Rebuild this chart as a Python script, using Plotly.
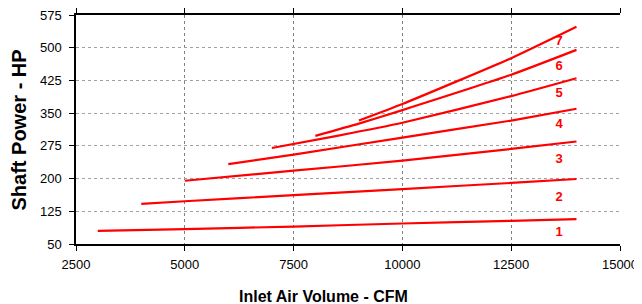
import plotly.graph_objects as go

# Curve data: inlet air volume (CFM) vs shaft power (HP)
curve_names = ["1", "2", "3", "4", "5", "6", "7"]
x1 = [3000, 5000, 7500, 10000, 12500, 14000]
y1 = [80, 84, 90, 97, 103, 107]
x2 = [4000, 5000, 7500, 10000, 12500, 14000]
y2 = [142, 148, 162, 176, 190, 199]
x3 = [5000, 7500, 10000, 12500, 14000]
y3 = [195, 218, 241, 268, 285]
x4 = [6000, 7500, 10000, 12500, 14000]
y4 = [233, 255, 294, 333, 360]
x5 = [7000, 8500, 10000, 12500, 14000]
y5 = [270, 298, 328, 389, 430]
x6 = [8000, 9000, 10000, 12500, 14000]
y6 = [298, 326, 357, 438, 495]
x7 = [9000, 10000, 12500, 14000]
y7 = [333, 371, 476, 548]

label_x = [13600] * 7
label_y = [76, 155, 243, 323, 394, 456, 514]

x_ticks = [2500, 5000, 7500, 10000, 12500, 15000]
y_ticks = [50, 125, 200, 275, 350, 425, 500, 575]

xs = [x1, x2, x3, x4, x5, x6, x7]
ys = [y1, y2, y3, y4, y5, y6, y7]

FONT = "Liberation Sans, Arial, sans-serif"

fig = go.Figure()
for name, xv, yv in zip(curve_names, xs, ys):
    fig.add_trace(go.Scatter(x=xv, y=yv, mode="lines", name=name,
                             line=dict(color="#ff0000", width=2.2, shape="spline", smoothing=0.5),
                             showlegend=False, hoverinfo="skip"))

fig.add_trace(go.Scatter(x=label_x, y=label_y, mode="text", text=curve_names,
                         textfont=dict(family=FONT, size=13, color="#ff0000", weight="bold"),
                         showlegend=False, hoverinfo="skip"))

fig.update_xaxes(range=[2500, 15000], tickvals=x_ticks, ticktext=[str(v) for v in x_ticks],
                 showline=True, linecolor="black", linewidth=1.5, mirror="ticks",
                 ticks="outside", ticklen=5, tickcolor="black", ticklabelstandoff=3,
                 showgrid=True, gridcolor="#808080", gridwidth=1, griddash="dot",
                 zeroline=False, automargin=False, ticklabeloverflow="allow",
                 tickfont=dict(family=FONT, size=13, color="black"))
fig.update_yaxes(range=[50, 575], tickvals=y_ticks, ticktext=[str(v) for v in y_ticks],
                 showline=True, linecolor="black", linewidth=1.5,
                 ticks="outside", ticklen=5, tickcolor="black", ticklabelstandoff=5,
                 showgrid=True, gridcolor="#a0a0a0", gridwidth=1, griddash="dot",
                 zeroline=False, automargin=False, ticklabeloverflow="allow",
                 tickfont=dict(family=FONT, size=13, color="black"))

fig.update_layout(
    width=634, height=296,
    margin=dict(l=68, r=22, t=7, b=60),
    paper_bgcolor="white", plot_bgcolor="white",
    annotations=[
        dict(text="<b>Inlet Air Volume - CFM</b>", xref="paper", yref="paper",
             x=(323 - 76) / 544, y=-(296 - 244) / 229, xanchor="center", yanchor="middle", showarrow=False,
             font=dict(family=FONT, size=16, color="black")),
        dict(text="<b>Shaft Power - HP</b>", xref="paper", yref="paper",
             x=-(76 - 18) / 544, y=(244 - 130.5) / 229, xanchor="center", yanchor="middle", showarrow=False,
             textangle=-90,
             font=dict(family=FONT, size=20, color="black")),
    ],
)

fig.write_html("out.html")
